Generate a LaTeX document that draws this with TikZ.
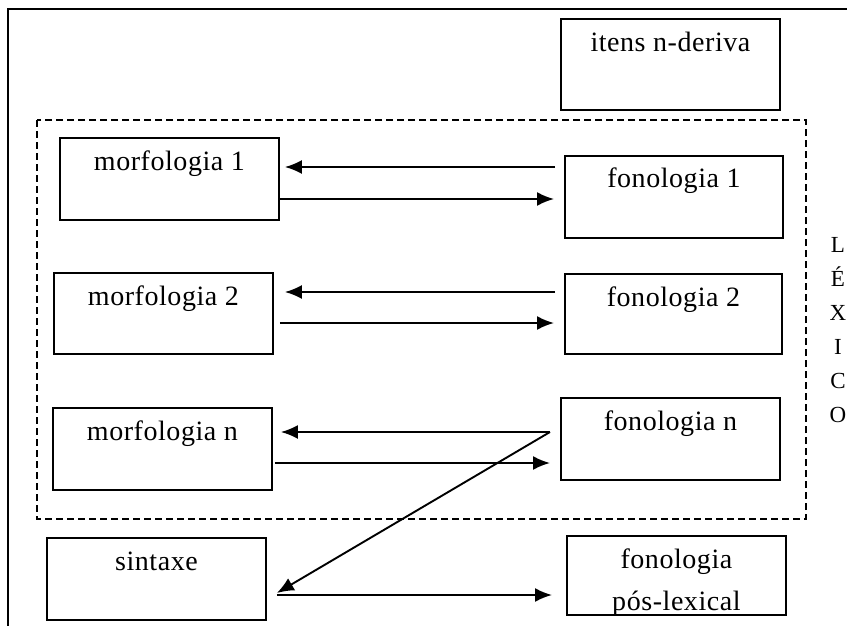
\documentclass[tikz,border=0pt]{standalone}
\usepackage{fontspec}
\setmainfont{Liberation Serif}
\newfontfamily\boxfont[LetterSpace=2]{Liberation Serif}
\usetikzlibrary{arrows.meta,calc}
\tikzset{
  box/.style={draw, line width=1.9pt, anchor=north west, inner sep=0pt},
  lbl/.style={anchor=base, inner sep=0pt, font=\boxfont\fontsize{28}{42}\selectfont, align=center},
  arr/.style={line width=1.9pt, -{Latex[length=17pt,width=14pt]}},
}
\begin{document}
\begin{tikzpicture}[x=1pt,y=-1pt]
\useasboundingbox (0,0) rectangle (847,626);
% outer frame (partial)
\draw[line width=1.9pt] (8,626) -- (8,9) -- (847,9);
% dashed LEXICO region
\draw[line width=1.7pt, dash pattern=on 7pt off 4pt] (37,120) rectangle (806,519);
% boxes
\node[box, minimum width=219pt, minimum height=91pt] (it) at (560,18) {};
\node[box, minimum width=219pt, minimum height=82pt] (m1) at (59,137) {};
\node[box, minimum width=218pt, minimum height=82pt] (f1) at (564,155) {};
\node[box, minimum width=219pt, minimum height=81pt] (m2) at (53,272) {};
\node[box, minimum width=217pt, minimum height=80pt] (f2) at (564,273) {};
\node[box, minimum width=219pt, minimum height=82pt] (mn) at (52,407) {};
\node[box, minimum width=219pt, minimum height=82pt] (fn) at (560,397) {};
\node[box, minimum width=219pt, minimum height=82pt] (sx) at (46,537) {};
\node[box, minimum width=219pt, minimum height=79pt] (fp) at (566,535) {};
% labels
\node[lbl] (tit) at ($(it.north)+(0,34)$) {itens n-deriva};
\node[lbl] (tm1) at ($(m1.north)+(0,33)$) {morfologia 1};
\node[lbl] (tf1) at ($(f1.north)+(0,32)$) {fonologia 1};
\node[lbl] (tm2) at ($(m2.north)+(0,33)$) {morfologia 2};
\node[lbl] (tf2) at ($(f2.north)+(0,33)$) {fonologia 2};
\node[lbl] (tmn) at ($(mn.north)+(0,33)$) {morfologia n};
\node[lbl] (tfn) at ($(fn.north)+(0,33)$) {fonologia n};
\node[lbl] (tsx) at ($(sx.north)+(0,33)$) {sintaxe};
\node[lbl] (tfp1) at ($(fp.north)+(0,33)$) {fonologia};
\node[lbl] (tfp2) at ($(fp.north)+(0,75)$) {pós-lexical};
\node[anchor=north, inner sep=0pt, font=\boxfont\fontsize{23}{34}\selectfont, align=center] (lex) at (838,237) {L\\É\\X\\I\\C\\O};
% connectors row 1
\draw[arr] ([shift={(-9,12)}]f1.north west) -- ([shift={(5,30)}]m1.north east);
\draw[arr] ([shift={(0,62)}]m1.north east) -- ([shift={(-10,44)}]f1.north west);
% row 2
\draw[arr] ([shift={(-9,19)}]f2.north west) -- ([shift={(11,20)}]m2.north east);
\draw[arr] ([shift={(6,51)}]m2.north east) -- ([shift={(-10,50)}]f2.north west);
% row n
\coordinate (fnout) at ([shift={(-10,35)}]fn.north west);
\draw[arr] (fnout) -- ([shift={(8,25)}]mn.north east);
\draw[arr] ([shift={(2,56)}]mn.north east) -- ([shift={(-10,66)}]fn.north west);
% to sintaxe and post-lexical
\draw[arr] (fnout) -- ([shift={(10,56)}]sx.north east);
\draw[arr] ([shift={(10,58)}]sx.north east) -- ([shift={(-14,60)}]fp.north west);
\end{tikzpicture}
\end{document}
